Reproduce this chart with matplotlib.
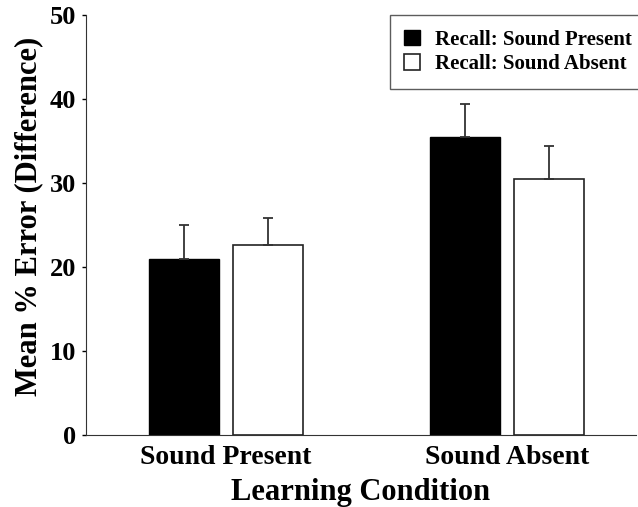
import numpy as np
import matplotlib
matplotlib.use("Agg")
import matplotlib.pyplot as plt

# data
conditions = ["Sound Present", "Sound Absent"]
recall_present = [21.0, 35.5]
recall_present_err = [4.0, 3.9]
recall_absent = [22.6, 30.5]
recall_absent_err = [3.3, 3.9]

plt.rcParams['font.family'] = ['Liberation Serif', 'DejaVu Serif']
plt.rcParams['font.weight'] = 'bold'

fig = plt.figure(figsize=(6.38, 5.07), dpi=100)
ax = fig.add_axes([0.1348, 0.142, 0.862, 0.828])

x = np.arange(len(conditions))
w = 0.249
off = 0.1495
ax.bar(x - off, recall_present, w, color='black', edgecolor='black', linewidth=1,
       yerr=[np.zeros(2), recall_present_err], error_kw=dict(ecolor='#333333', elinewidth=1.3, capsize=3.5, capthick=1.3),
       label='Recall: Sound Present')
ax.bar(x + off, recall_absent, w, color='white', edgecolor='#222222', linewidth=1.2,
       yerr=[np.zeros(2), recall_absent_err], error_kw=dict(ecolor='#333333', elinewidth=1.3, capsize=3.5, capthick=1.3),
       label='Recall: Sound Absent')

ax.set_xlim(-0.498, 1.459)
ax.set_ylim(0, 50)
ax.set_yticks([0, 10, 20, 30, 40, 50])
ax.set_xticks(x)
ax.set_xticklabels(conditions, fontsize=20, fontweight='bold')
ax.tick_params(axis='x', length=0, pad=7)
ax.tick_params(axis='y', labelsize=19, length=3, width=1, pad=4)
for t in ax.get_yticklabels():
    t.set_fontweight('bold')
ax.spines['top'].set_visible(False)
ax.spines['right'].set_visible(False)
ax.spines['left'].set_color('#333333')
ax.spines['bottom'].set_color('#333333')

ax.set_xlabel('Learning Condition', fontsize=22, fontweight='bold', labelpad=6)
ax.set_ylabel('Mean % Error (Difference)', fontsize=22, fontweight='bold')
ax.yaxis.set_label_coords(-0.078, 0.52)

leg = ax.legend(loc='upper right', bbox_to_anchor=(1.02, 1.0), frameon=True, fancybox=False,
                edgecolor='#333333', borderaxespad=0, handlelength=0.77, handleheight=0.77,
                borderpad=0.7, labelspacing=0.2, handletextpad=0.72,
                prop={'weight': 'bold', 'size': 15})
leg.get_frame().set_linewidth(1)

fig.savefig('out.png', dpi=100)
